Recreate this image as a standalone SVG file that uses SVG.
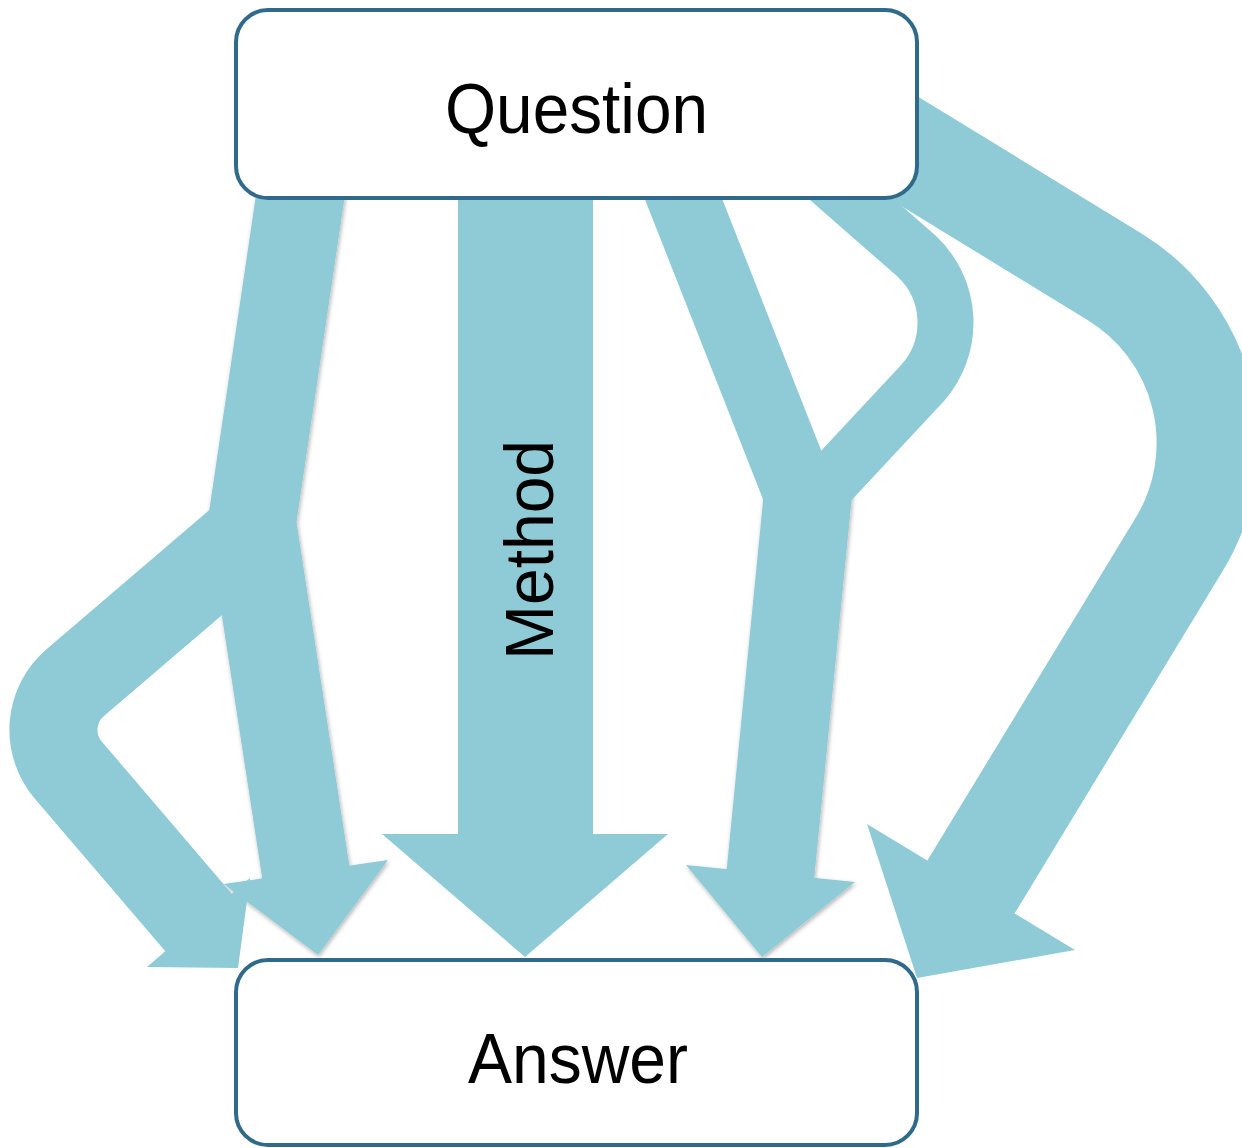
<svg xmlns="http://www.w3.org/2000/svg" width="1242" height="1148" viewBox="0 0 1242 1148">
  <defs>
    <filter id="shadow" x="-20%" y="-20%" width="140%" height="140%">
      <feDropShadow dx="1" dy="2" stdDeviation="2" flood-color="#000" flood-opacity="0.3"/>
    </filter>
  </defs>
  <style>
    .band { fill: none; stroke: #8fcbd6; stroke-linecap: butt; stroke-linejoin: miter; }
    .head { fill: #8fcbd6; stroke: none; }
    .box { fill: #ffffff; stroke: #2f6a8a; stroke-width: 4; }
    .label { font-family: "Liberation Sans", Arial, sans-serif; fill: #000; }
  </style>
  <rect width="1242" height="1148" fill="#ffffff"/>
  <g id="connectors">
    <g id="arrow-a" filter="url(#shadow)">
      <path class="band" stroke-width="88" d="M302.7,180 L252,522 L306.7,878"/>
      <polygon class="head" points="223.6,884 388,860 318,955"/>
    </g>
    <g id="arrow-c-lower" filter="url(#shadow)">
      <path class="band" stroke-width="88" d="M809.5,478 L769.9,879.5"/>
      <polygon class="head" points="686,865 855,882 762,957"/>
    </g>
    <g id="arrow-b">
      <path class="band" stroke-width="88" d="M256,528 L75.1,682.7 A62,62 0 0 0 68.3,770.1 L202.4,927"/>
      <polygon class="head" points="147,967 250,878 238,968"/>
    </g>
    <g id="arrow-d">
      <path class="band" stroke-width="56" d="M780,136.6 L916.5,256 A91,91 0 0 1 923,382.5 L814.5,498.8"/>
    </g>
    <g id="arrow-c-upper">
      <path class="band" stroke-width="72" d="M676,180 L802,500"/>
    </g>
    <g id="arrow-e">
      <path class="band" stroke-width="102" d="M860,121 L1113.7,276.2 A195,195 0 0 1 1179,544.7 L967.9,892.1"/>
      <polygon class="head" points="867,824 1075,950 917,978"/>
    </g>
    <g id="arrow-method">
      <rect class="head" x="458" y="180" width="135" height="660"/>
      <polygon class="head" points="382,834 668,834 525,957"/>
      <text class="label" x="553" y="550" font-size="68" text-anchor="middle" textLength="220" lengthAdjust="spacingAndGlyphs" transform="rotate(-90 553 550)">Method</text>
    </g>
  </g>
  <g id="question">
    <rect class="box" x="236" y="10" width="681" height="188" rx="32"/>
    <text class="label" x="576.5" y="133" font-size="71" text-anchor="middle" textLength="263" lengthAdjust="spacingAndGlyphs">Question</text>
  </g>
  <g id="answer">
    <rect class="box" x="236" y="960" width="681" height="185" rx="32"/>
    <text class="label" x="578" y="1083" font-size="71" text-anchor="middle" textLength="220" lengthAdjust="spacingAndGlyphs">Answer</text>
  </g>
</svg>
